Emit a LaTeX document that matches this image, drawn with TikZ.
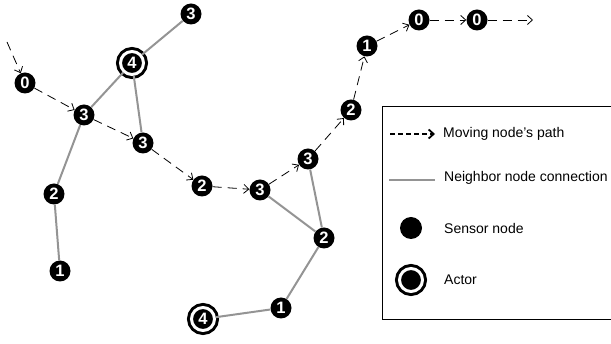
\documentclass[tikz,border=0pt]{standalone}
\usepackage{fontspec}
\setmainfont{Liberation Sans}
\usetikzlibrary{arrows.meta}
\tikzset{
  sensor/.style={circle,fill=black,inner sep=0pt,minimum size=21pt,text=white,font=\fontsize{16.5}{16.5}\selectfont\bfseries},
  actor/.style={sensor,minimum size=23pt,double=white,draw=black,double distance=3pt,line width=3pt},
  moving/.style={dash pattern=on 9pt off 6pt,line width=0.8pt,-{Straight Barb[length=5pt,width=9pt]}},
  neighbor/.style={draw=black!42,line width=2pt},
  legtext/.style={anchor=west,font=\fontsize{14}{16}\selectfont,inner sep=0pt},
}
\begin{document}
\begin{tikzpicture}[x=1pt,y=-1pt]
\useasboundingbox (0,0) rectangle (611,344);
\clip (0,0) rectangle (611,344);
% nodes
\node[sensor] (n0a) at (25,83) {0};
\node[sensor] (n3a) at (84,115) {3};
\node[sensor] (n3b) at (143,143) {3};
\node[actor]  (n4a) at (132,63) {4};
\node[sensor] (n3t) at (191,14) {3};
\node[sensor] (n2a) at (54,194) {2};
\node[sensor] (n1a) at (60,271) {1};
\node[sensor] (n2b) at (202,186) {2};
\node[sensor] (n3c) at (260,190) {3};
\node[sensor] (n3d) at (308,159) {3};
\node[sensor] (n2c) at (324,238) {2};
\node[sensor] (n1b) at (281,308) {1};
\node[actor]  (n4b) at (203,319) {4};
\node[sensor] (n2d) at (351,110) {2};
\node[sensor] (n1c) at (367,46) {1};
\node[sensor] (n0b) at (419,20) {0};
\node[sensor] (n0c) at (477,20) {0};
\coordinate (start) at (7,42);
\coordinate (fin) at (533,20);
% neighbor connections
\draw[neighbor] (n4a) -- (n3t);
\draw[neighbor] (n4a) -- (n3a);
\draw[neighbor] (n4a) -- (n3b);
\draw[neighbor] (n3a) -- (n2a);
\draw[neighbor] (n2a) -- (n1a);
\draw[neighbor] (n3c) -- (n2c);
\draw[neighbor] (n3d) -- (n2c);
\draw[neighbor] (n2c) -- (n1b);
\draw[neighbor] (n1b) -- (n4b);
% moving path
\draw[moving] (start) -- (n0a);
\draw[moving] (n0a) -- (n3a);
\draw[moving] (n3a) -- (n3b);
\draw[moving] (n3b) -- (n2b);
\draw[moving] (n2b) -- (n3c);
\draw[moving] (n3c) -- (n3d);
\draw[moving] (n3d) -- (n2d);
\draw[moving] (n2d) -- (n1c);
\draw[moving] (n1c) -- (n0b);
\draw[moving] (n0b) -- (n0c);
\draw[moving] (n0c) -- (fin);
% legend
\node[draw=black,line width=0.8pt,minimum width=280pt,minimum height=213pt,anchor=north west,inner sep=0pt] (legend) at (382,106) {};
\coordinate (l1a) at (390,134);
\coordinate (l1b) at (435,134);
\draw[line width=1.8pt,dash pattern=on 5pt off 3pt,-{Straight Barb[length=5pt,width=9pt]}] (l1a) -- (l1b);
\node[legtext] (t1) at (443,134) {Moving node's path};
\coordinate (l2a) at (389,180);
\coordinate (l2b) at (435,180);
\draw[neighbor] (l2a) -- (l2b);
\node[legtext] (t2) at (444,178) {Neighbor node connection};
\node[sensor,minimum size=22pt] (ls) at (411,228) {};
\node[legtext] (t3) at (444,228) {Sensor node};
\node[actor] (la) at (411,280) {};
\node[legtext] (t4) at (444,280) {Actor};
\end{tikzpicture}
\end{document}
